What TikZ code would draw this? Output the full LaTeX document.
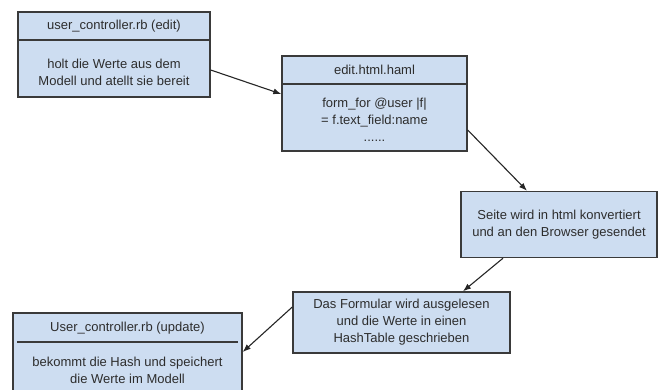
\documentclass[tikz,border=0pt]{standalone}
\usepackage{fontspec}
\setmainfont{Liberation Sans}
\usetikzlibrary{arrows.meta}
\definecolor{boxfill}{RGB}{205,221,241}
\definecolor{boxline}{RGB}{58,58,58}
\definecolor{txt}{RGB}{45,45,45}
\tikzset{
  box/.style={draw=boxline, fill=boxfill, line width=1.4pt, rectangle, inner sep=0pt},
  label/.style={text=txt, align=center, inner sep=0pt, font=\fontsize{13}{17}\selectfont},
  divider/.style={draw=boxline, line width=1.3pt},
  flow/.style={draw=black!85, line width=1.1pt, -{Latex[length=8pt,width=6pt]}}
}
\begin{document}
\begin{tikzpicture}[x=1pt,y=-1pt]
\useasboundingbox (0,0) rectangle (659,389);
\clip (0,0) rectangle (659,389);
\fill[white] (0,0) rectangle (659,389);

% user_controller.rb (edit)
\node[box, minimum width=192pt, minimum height=85pt] (ctrl) at (114,54.5) {};
\draw[divider] (ctrl.west |- 0,40) -- (ctrl.east |- 0,40);
\node[label] (ctrltitle) at (114,26) {user\_controller.rb (edit)};
\node[label] (ctrlbody) at (114,72) {holt die Werte aus dem\\Modell und atellt sie bereit};

% edit.html.haml
\node[box, minimum width=185pt, minimum height=95pt] (haml) at (374.5,103.5) {};
\draw[divider] (haml.west |- 0,84) -- (haml.east |- 0,84);
\node[label] (hamltitle) at (374.5,70) {edit.html.haml};
\node[label] (hamlbody) at (374.5,120) {form\_for @user |f|\\= f.text\_field:name\\......};

% conversion step
\node[box, minimum width=196pt, minimum height=66pt] (html) at (559,224.5) {};
\node[label] (htmltext) at (559,225) {Seite wird in html konvertiert\\und an den Browser gesendet};

% form parsing step
\node[box, minimum width=217pt, minimum height=61pt] (form) at (401.5,322.5) {};
\node[label] (formtext) at (401.5,322) {Das Formular wird ausgelesen\\und die Werte in einen\\HashTable geschrieben};

% User_controller.rb (update)
\node[box, minimum width=229pt, minimum height=92pt] (upd) at (127.5,359) {};
\draw[divider] ([xshift=5pt]upd.west |- 0,342) -- ([xshift=-5pt]upd.east |- 0,342);
\node[label] (updtitle) at (127.5,328) {User\_controller.rb (update)};
\node[label] (updbody) at (127.5,370) {bekommt die Hash und speichert\\die Werte im Modell};

% flow between the steps
\draw[flow] ([yshift=-15.5pt]ctrl.east) -- ([yshift=9.5pt]haml.west);
\draw[flow] ([yshift=-26.5pt]haml.east) -- ([xshift=-32pt]html.north);
\draw[flow] ([xshift=-56pt]html.south) -- ([xshift=61.5pt]form.north);
\draw[flow] ([yshift=15.5pt]form.west) -- ([yshift=7pt]upd.east);
\end{tikzpicture}
\end{document}
